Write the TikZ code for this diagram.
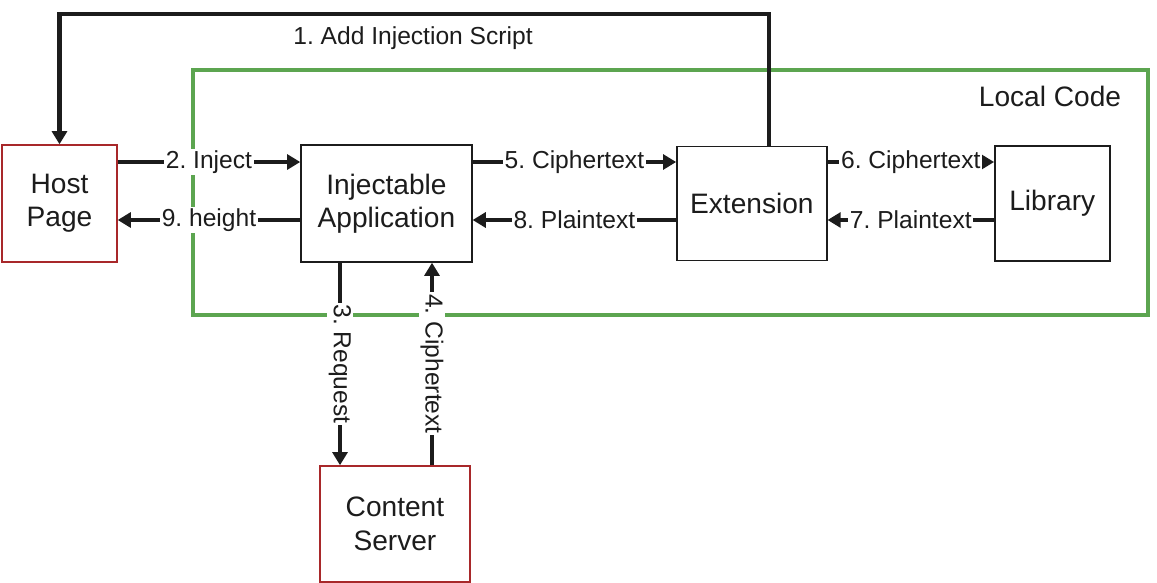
\documentclass[tikz,border=0pt]{standalone}
\usepackage{fontspec}
\setmainfont{Liberation Sans}
\usepackage{xcolor}
\usepackage{tikz}
\usetikzlibrary{arrows.meta, positioning}
\frenchspacing

\definecolor{localgreen}{RGB}{92,165,80}
\definecolor{hostred}{RGB}{168,40,42}
\definecolor{ink}{RGB}{28,28,28}

\begin{document}
\begin{tikzpicture}[x=0.02cm, y=-0.02cm, on grid,
    box/.style={draw=ink, line width=0.8pt, fill=white, align=center, text=ink,
      font=\fontsize{16}{19}\selectfont, inner sep=2pt},
    remote/.style={box, draw=hostred},
    flow/.style={draw=ink, line width=2.3pt, -{Triangle[length=7.5pt,width=8.5pt]}},
    lbl/.style={fill=white, inner sep=1pt, text=ink, font=\fontsize{14}{16}\selectfont}]
  \useasboundingbox (0,0) rectangle (1157,582);

  % local code frame
  \draw[localgreen, line width=2.8pt] (193,70) rectangle (1148,315);
  \node[text=ink, font=\fontsize{16}{19}\selectfont] (local) at (1050,96) {Local Code};

  \node[remote, minimum width=2.3cm, minimum height=2.34cm] (host) at (59.5,203.5) {Host\\Page};
  \node[box, minimum width=3.42cm, minimum height=2.34cm] (inj) [right=6.54cm of host] {Injectable\\Application};
  \node[box, minimum width=3cm, minimum height=2.28cm] (ext) [right=7.31cm of inj] {Extension};
  \node[box, minimum width=2.3cm, minimum height=2.3cm] (lib) [right=6.01cm of ext] {Library};
  \node[remote, minimum width=3cm, minimum height=2.32cm] (srv) [below=6.41cm of inj, xshift=0.17cm] {Content\\Server};

  \coordinate (upper) at (0,162);
  \coordinate (lower) at (0,220);
  \coordinate (c1) at (769,0);
  \coordinate (c3) at (340,0);
  \coordinate (c4) at (432,0);
  \coordinate (ridge) at (413,14);

  \draw[flow] (ext.north -| c1) |- (ridge) node[lbl, below=5pt] {1. Add Injection Script} -| (host.north);
  \draw[flow] (host.east |- upper) -- node[lbl] {2. Inject} (inj.west |- upper);
  \draw[flow] (inj.south -| c3) -- node[lbl, rotate=-90] {3. Request} (srv.north -| c3);
  \draw[flow] (srv.north -| c4) -- node[lbl, rotate=-90] {4. Ciphertext} (inj.south -| c4);
  \draw[flow] (inj.east |- upper) -- node[lbl] {5. Ciphertext} (ext.west |- upper);
  \draw[flow] (ext.east |- upper) -- node[lbl] {6. Ciphertext} (lib.west |- upper);
  \draw[flow] (lib.west |- lower) -- node[lbl] {7. Plaintext} (ext.east |- lower);
  \draw[flow] (ext.west |- lower) -- node[lbl] {8. Plaintext} (inj.east |- lower);
  \draw[flow] (inj.west |- lower) -- node[lbl] {9. height} (host.east |- lower);
\end{tikzpicture}
\end{document}
